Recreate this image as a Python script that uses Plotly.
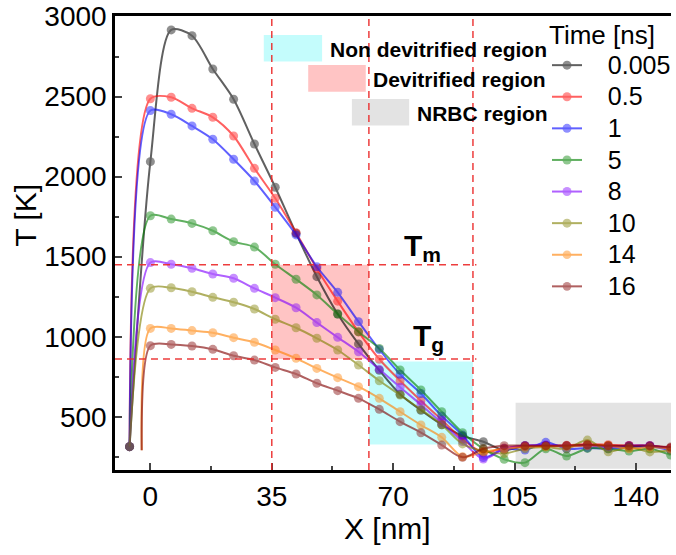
import plotly.graph_objects as go

# ---------------- data ----------------
x_nm = [0, 6, 12, 18, 24, 30, 36, 42, 48, 54, 60, 66, 72, 78, 84, 90,
        96, 102, 108, 114, 120, 126, 132, 138, 144, 150]

series_names = ["0.005", "0.5", "1", "5", "8", "10", "14", "16"]
series_colors = ["#000000", "#FF0000", "#0000FF", "#008000",
                 "#8000FF", "#808000", "#FF8000", "#800000"]

# starting point of each profile (no marker for the last two)
start_x = [-6, -6, -6, -6, -6, -6, -2.5, -2.5]
start_y = [313, 313, 313, 313, 313, 313, 290, 290]
start_marker = [True, True, True, True, True, True, False, False]

T_0005 = [2094, 2917, 2881, 2673, 2484, 2204, 1934, 1646, 1375, 1142, 955, 790, 640, 540, 450, 380,
          344, 290, 318, 320, 318, 322, 318, 316, 315, 305]
T_05 = [2487, 2496, 2427, 2371, 2254, 2052, 1865, 1650, 1425, 1222, 1030, 859, 725, 600, 480, 360,
        275, 305, 315, 318, 322, 330, 325, 320, 318, 305]
T_1 = [2413, 2390, 2317, 2234, 2109, 1973, 1809, 1636, 1437, 1277, 1094, 920, 765, 645, 505, 385,
       245, 300, 292, 340, 300, 305, 300, 310, 315, 290]
T_5 = [1756, 1735, 1708, 1662, 1594, 1560, 1453, 1359, 1261, 1142, 1031, 927, 792, 667, 531, 400,
       300, 234, 213, 300, 254, 302, 300, 285, 300, 260]
T_8 = [1463, 1453, 1428, 1392, 1365, 1302, 1244, 1181, 1088, 996, 906, 796, 684, 575, 460, 345,
       236, 300, 320, 325, 315, 320, 310, 320, 320, 300]
T_10 = [1302, 1306, 1281, 1246, 1215, 1173, 1109, 1056, 990, 917, 823, 725, 636, 545, 450, 330,
        285, 270, 300, 310, 300, 354, 281, 310, 280, 290]
T_14 = [1052, 1052, 1038, 1025, 994, 965, 917, 865, 802, 744, 688, 615, 531, 448, 371, 250,
        281, 298, 310, 315, 315, 320, 320, 300, 310, 300]
T_16 = [944, 952, 942, 921, 881, 854, 808, 767, 709, 663, 615, 546, 469, 400, 323, 246,
        300, 319, 319, 319, 319, 325, 319, 319, 319, 310]
series_T = [T_0005, T_05, T_1, T_5, T_8, T_10, T_14, T_16]

x_ticks = [0, 35, 70, 105, 140]
y_ticks = [500, 1000, 1500, 2000, 2500, 3000]
x_range = [-10.2, 150.1]
y_range = [167, 3004]

# reference lines / regions
x_bounds = [35, 63, 93]
T_m = 1450
T_g = 860
line_end_x = 94
devit_region = dict(x0=35, x1=63, y0=860, y1=1450)
nondevit_region = dict(x0=63, x1=93, y0=327, y1=845)
nrbc_region = dict(x0=105.3, x1=150.1, y0=175, y1=588)

FONT = "Arial, Liberation Sans, sans-serif"

fig = go.Figure()

for name, col, sx, sy, sm, T in zip(series_names, series_colors, start_x, start_y,
                                     start_marker, series_T):
    xs = [sx] + x_nm
    ys = [sy] + T
    sizes = [9 if sm else 0] + [9] * len(T)
    fig.add_trace(go.Scatter(
        x=xs, y=ys,
        name='<span style="font-size:25px">&nbsp;&nbsp;&nbsp;' + name + '</span>',
        mode="lines+markers",
        line=dict(color=col, width=2, shape="spline", smoothing=0.8),
        marker=dict(color=col, size=sizes, line=dict(width=0)),
        opacity=0.62,
    ))

shapes = []
shapes.append(dict(type="rect", xref="x", yref="y", layer="below", line=dict(width=0),
                   fillcolor="rgba(255,0,0,0.23)", **devit_region))
shapes.append(dict(type="rect", xref="x", yref="y", layer="below", line=dict(width=0),
                   fillcolor="rgba(0,240,240,0.23)", **nondevit_region))
shapes.append(dict(type="rect", xref="x", yref="y", layer="below", line=dict(width=0),
                   fillcolor="rgba(128,128,128,0.22)", **nrbc_region))
dash_line = dict(color="rgba(235,40,40,0.9)", width=1.5, dash="7px,5px")
for xb in x_bounds:
    shapes.append(dict(type="line", xref="x", yref="paper", x0=xb, x1=xb, y0=0, y1=1,
                       line=dash_line))
for yt in [T_m, T_g]:
    shapes.append(dict(type="line", xref="paper", yref="y", x0=0,
                       x1=(line_end_x - x_range[0]) / (x_range[1] - x_range[0]),
                       y0=yt, y1=yt, line=dash_line))

key_boxes = [
    (32.7, 49.5, 2719, 2886, "rgba(0,240,240,0.23)", "Non devitrified region"),
    (45.5, 62.1, 2531, 2698, "rgba(255,0,0,0.23)", "Devitrified region"),
    (58.1, 74.6, 2319, 2486, "rgba(128,128,128,0.22)", "NRBC region"),
]
annotations = []
for x0, x1, y0, y1, fc, label in key_boxes:
    shapes.append(dict(type="rect", xref="x", yref="y", x0=x0, x1=x1, y0=y0, y1=y1,
                       fillcolor=fc, line=dict(width=0), layer="below"))
    annotations.append(dict(x=x1 + 1.6, y=(y0 + y1) / 2 - 10, xref="x", yref="y",
                            text="<b>" + label + "</b>", showarrow=False,
                            xanchor="left", yanchor="middle",
                            font=dict(family=FONT, size=21, color="black")))

annotations.append(dict(x=72.4, y=1555, xref="x", yref="y", text="<b>T<sub>m</sub></b>",
                        showarrow=False, xanchor="left", yanchor="middle",
                        font=dict(family=FONT, size=30, color="black")))
annotations.append(dict(x=75.0, y=995, xref="x", yref="y", text="<b>T<sub>g</sub></b>",
                        showarrow=False, xanchor="left", yanchor="middle",
                        font=dict(family=FONT, size=30, color="black")))
# axis titles
annotations.append(dict(x=0.49, y=-0.128, xref="paper", yref="paper", text="X [nm]",
                        showarrow=False, xanchor="center", yanchor="middle",
                        font=dict(family=FONT, size=30, color="black")))
annotations.append(dict(x=-0.160, y=0.56, xref="paper", yref="paper", text="T [K]",
                        showarrow=False, xanchor="center", yanchor="middle", textangle=-90,
                        font=dict(family=FONT, size=30, color="black")))

fig.update_layout(
    width=676, height=555,
    margin=dict(l=115, r=0, t=16, b=85),
    paper_bgcolor="white", plot_bgcolor="white",
    font=dict(family=FONT, size=28, color="black"),
    shapes=shapes, annotations=annotations,
    legend=dict(x=0.777, y=1.012, xanchor="left", yanchor="top", maxheight=520,
                bgcolor="rgba(0,0,0,0)", borderwidth=0,
                font=dict(family=FONT, size=22, color="black"),
                title=dict(text="Time [ns]", font=dict(family=FONT, size=26)),
                tracegroupgap=0),
    showlegend=True,
)
fig.update_xaxes(
    range=x_range, tickvals=x_ticks, ticks="inside", ticklen=7, tickwidth=2,
    showline=True, linewidth=2.5, linecolor="black", mirror=True,
    showgrid=False, zeroline=False, automargin=False,
    minor=dict(tick0=0, dtick=17.5, ticks="inside", ticklen=4, tickwidth=2),
    tickfont=dict(family=FONT, size=28),
)
fig.update_yaxes(
    range=y_range, tickvals=y_ticks, ticks="inside", ticklen=7, tickwidth=2,
    showline=True, linewidth=2.5, linecolor="black", mirror=False,
    showgrid=False, zeroline=False, automargin=False,
    minor=dict(tick0=0, dtick=250, ticks="inside", ticklen=4, tickwidth=2),
    tickfont=dict(family=FONT, size=28),
)

fig.write_html(
    "out.html",
    config={"displayModeBar": False},
    post_script=("document.body.style.margin='0';document.body.style.overflow='hidden';"
                 "document.documentElement.style.overflow='hidden';"),
)
